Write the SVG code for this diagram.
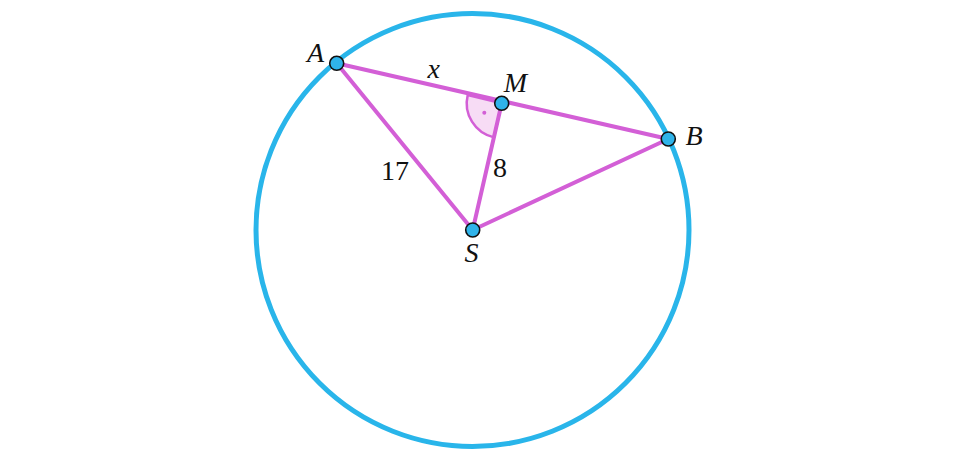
<svg xmlns="http://www.w3.org/2000/svg" width="960" height="465" viewBox="0 0 960 465">
<style>
.seg{stroke:#d35fd6;stroke-width:4;stroke-linecap:round;fill:none}
.pt{fill:#2fb3ea;stroke:#111;stroke-width:1.6}
.lbl{font-family:'Liberation Serif','DejaVu Serif',serif;font-size:28px;fill:#111;text-anchor:middle}
.it{font-style:italic}
</style>
<rect width="960" height="465" fill="#fff"/>
<g id="circle">
<circle cx="472.5" cy="230" r="216.5" fill="none" stroke="#29b5ea" stroke-width="5"/>
</g>
<g id="angle">
<path d="M501.7,103.3 L467.7,95.1 A35,35 0 0 0 493.9,137.4 Z" fill="#f7dcf5" stroke="#d35fd6" stroke-width="2.5"/>
<circle cx="484.3" cy="112.8" r="2" fill="#d35fd6"/>
</g>
<g id="connectors">
<line class="seg" x1="336.7" y1="63.3" x2="668.3" y2="139"/>
<line class="seg" x1="336.7" y1="63.3" x2="472.7" y2="230"/>
<line class="seg" x1="501.7" y1="103.3" x2="472.7" y2="230"/>
<line class="seg" x1="472.7" y1="230" x2="668.3" y2="139"/>
</g>
<g id="A"><circle class="pt" cx="336.7" cy="63.3" r="7"/><text class="lbl it" x="315.5" y="62">A</text></g>
<g id="M"><circle class="pt" cx="501.7" cy="103.3" r="7"/><text class="lbl it" x="515.5" y="91.5">M</text></g>
<g id="B"><circle class="pt" cx="668.3" cy="139" r="7"/><text class="lbl it" x="694" y="145">B</text></g>
<g id="S"><circle class="pt" cx="472.7" cy="230" r="7"/><text class="lbl it" x="471.5" y="262">S</text></g>
<g id="labels">
<text class="lbl it" x="433.7" y="78">x</text>
<text class="lbl" x="395" y="180">17</text>
<text class="lbl" x="500" y="177">8</text>
</g>
</svg>
